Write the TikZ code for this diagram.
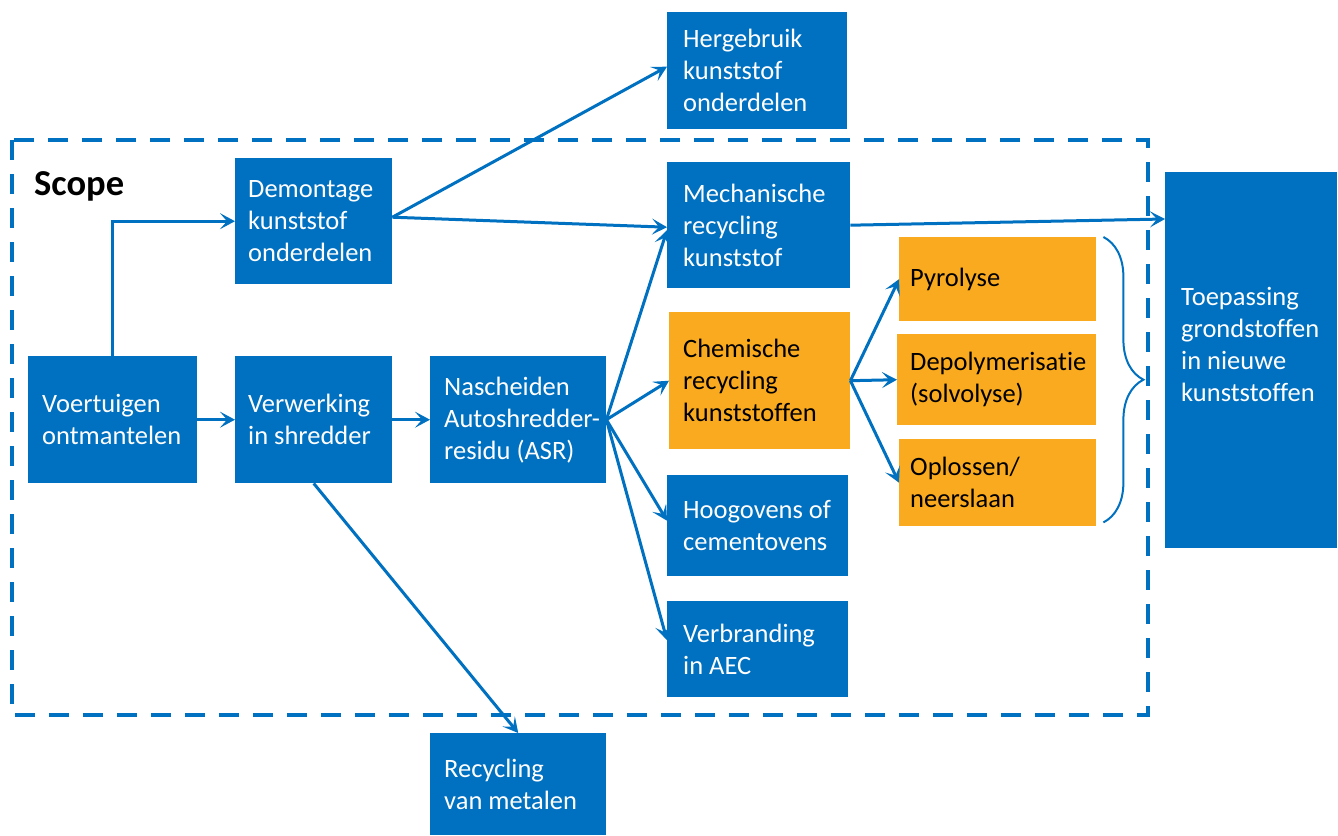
\documentclass[tikz,border=0pt]{standalone}
\usepackage{fontspec}
\setmainfont[Ligatures=NoCommon]{Carlito}
\usetikzlibrary{arrows.meta,calc,decorations.pathreplacing}
\definecolor{flowblue}{RGB}{0,112,192}
\definecolor{floworange}{RGB}{249,170,30}
\begin{document}
\begin{tikzpicture}[x=1pt,y=-1pt,
  every node/.style={font=\fontsize{26.5}{32}\selectfont},
  box/.style={rectangle, fill=flowblue, text=white, anchor=north west,
    inner sep=0pt, align=left,
    execute at begin node={\hyphenpenalty=10000\exhyphenpenalty=10000\hbadness=10000\hfuzz=100pt\spaceskip=0pt\xspaceskip=0pt}},
  obox/.style={box, fill=floworange, text=black},
  flow/.style={draw=flowblue, line width=3pt,
    -{Stealth[length=15pt,width=16pt,inset=7pt]}},
  scopeline/.style={draw=flowblue, line width=4pt, dash pattern=on 20pt off 14pt},
  braceline/.style={draw=flowblue, line width=2pt,
    decorate, decoration={brace, amplitude=40pt, aspect=0.5}}]
\useasboundingbox (0,0) rectangle (1338,835);

% scope frame
\draw[scopeline] (12,140) rectangle (1148,715);
\node[anchor=base west, inner sep=0pt, font=\fontsize{36.5}{40}\selectfont\bfseries] (scopelabel) at (34,195) {Scope};

% boxes: position = top-left corner
\node[box, minimum width=180pt, minimum height=117pt, text width=148pt] (herg) at (667,12) {Hergebruik\\kunststof\\onderdelen};
\node[box, minimum width=157pt, minimum height=126pt, text width=131pt] (demo) at (235,158) {Demontage\\kunststof\\onderdelen};
\node[box, minimum width=183pt, minimum height=126pt, text width=151pt] (mech) at (667,162) {Mechanische\\recycling\\kunststof};
\node[box, minimum width=172pt, minimum height=376pt, text width=140pt, text depth=128pt] (toep) at (1165,172) {Toepassing\\grondstoffen\\in nieuwe\\kunststoffen};
\node[obox, minimum width=197pt, minimum height=84pt, text width=175pt] (pyro) at (899,237) {Pyrolyse};
\node[obox, minimum width=181pt, minimum height=137pt, text width=153pt] (chem) at (669,312) {Chemische\\recycling\\kunststoffen};
\node[obox, minimum width=199pt, minimum height=91pt, text width=173pt] (depo) at (897,334) {Depolymerisatie\\(solvolyse)};
\node[obox, minimum width=197pt, minimum height=87pt, text width=175pt] (oplo) at (899,439) {Oplossen/\\neerslaan};
\node[box, minimum width=169pt, minimum height=127pt, text width=141pt] (voer) at (28,356) {Voertuigen\\ontmantelen};
\node[box, minimum width=157pt, minimum height=127pt, text width=131pt] (verw) at (235,356) {Verwerking\\in shredder};
\node[box, minimum width=176pt, minimum height=127pt, text width=148pt] (nasc) at (430,356) {Nascheiden\\Autoshredder-\\residu (ASR)};
\node[box, minimum width=181pt, minimum height=101pt, text width=149pt] (hoog) at (667,475) {Hoogovens of\\cementovens};
\node[box, minimum width=181pt, minimum height=96pt, text width=149pt] (verb) at (667,601) {Verbranding\\in AEC};
\node[box, minimum width=176pt, minimum height=102pt, text width=148pt] (meta) at (430,733) {Recycling\\van metalen};

% connectors
\draw[flow] (voer.north) |- (demo.west);
\draw[flow] (voer.east) -- (verw.west);
\draw[flow] (verw.east) -- (nasc.west);
\draw[flow] ($(demo.east)+(0,-4)$) -- ($(herg.west)+(0,-4)$);
\draw[flow] ($(demo.east)+(0,-4)$) -- ($(mech.west)+(0,2)$);
\draw[flow] (nasc.east) -- ($(mech.west)+(0,5)$);
\draw[flow] (nasc.east) -- (chem.west);
\draw[flow] (nasc.east) -- ($(hoog.west)+(0,-5)$);
\draw[flow] (nasc.east) -- ($(verb.west)+(0,-9)$);
\draw[flow] (mech.east) -- ($(toep.north west)+(0,47)$);
\draw[flow] (chem.east) -- (pyro.west);
\draw[flow] (chem.east) -- (depo.west);
\draw[flow] (chem.east) -- (oplo.west);
\draw[flow] (verw.south) -- (meta.north);

% brace grouping the chemical routes
\draw[braceline] ($(pyro.north east)+(7,0)$) -- ($(oplo.south east)+(7,-4)$);
\end{tikzpicture}
\end{document}
